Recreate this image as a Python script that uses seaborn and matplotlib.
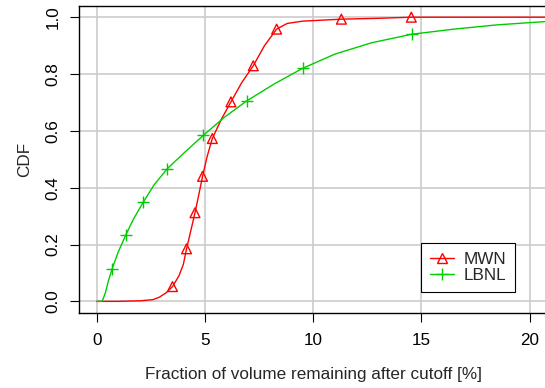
import matplotlib
matplotlib.use("Agg")
import matplotlib.pyplot as plt
from matplotlib.lines import Line2D
import seaborn as sns
import pandas as pd

# ---- data ----
mwn_x = [0.0, 1.0, 2.0, 2.6, 2.9, 3.2, 3.5, 3.8, 4.0, 4.15, 4.35, 4.54, 4.7, 4.89, 5.1,
         5.34, 5.75, 6.2, 6.7, 7.23, 7.75, 8.31, 8.8, 9.5, 10.0, 11.3, 13.0, 14.53, 20.8]
mwn_y = [0.0, 0.0, 0.002, 0.006, 0.015, 0.03, 0.052, 0.09, 0.13, 0.185, 0.25, 0.312, 0.37, 0.44, 0.51,
         0.573, 0.64, 0.702, 0.77, 0.829, 0.90, 0.958, 0.978, 0.986, 0.988, 0.993, 0.996, 1.0, 1.0]
mwn_marks = [6, 9, 11, 13, 15, 17, 19, 21, 25, 27]

lbnl_x = [0.0, 0.25, 0.4, 0.55, 0.71, 1.0, 1.34, 1.7, 2.15, 2.65, 3.26, 4.1, 4.92, 5.9, 6.92,
          8.2, 9.51, 11.0, 12.7, 14.55, 16.5, 18.5, 20.8]
lbnl_y = [0.0, 0.0, 0.03, 0.075, 0.114, 0.175, 0.233, 0.29, 0.349, 0.41, 0.467, 0.527, 0.584, 0.648, 0.705,
          0.765, 0.82, 0.87, 0.91, 0.94, 0.958, 0.973, 0.985]
lbnl_marks = [4, 6, 8, 10, 12, 14, 16, 19]

x_ticks = [0, 5, 10, 15, 20]
y_ticks = [0.0, 0.2, 0.4, 0.6, 0.8, 1.0]
y_tick_labels = ["0.0", "0.2", "0.4", "0.6", "0.8", "1.0"]
series_names = ["MWN", "LBNL"]
colors = ["#FF0000", "#00CD00"]
marker_styles = ["^", "+"]

FS = 12.3

sns.set_theme(style="ticks")
plt.rcParams["font.family"] = ["Liberation Sans", "DejaVu Sans"]

fig = plt.figure(figsize=(5.45, 3.88), dpi=100)
ax = fig.add_axes([0.1457, 0.194, 0.858, 0.791])

ax.grid(True, color="#CCCCCC", linewidth=1.2, zorder=0)
ax.set_axisbelow(True)

series = [(mwn_x, mwn_y, mwn_marks), (lbnl_x, lbnl_y, lbnl_marks)]
for (xs, ys, marks), name, col, mk in zip(series, series_names, colors, marker_styles):
    df = pd.DataFrame({"x": xs, "y": ys})
    sns.lineplot(data=df, x="x", y="y", sort=False, estimator=None, color=col,
                 linewidth=1.0, ax=ax, legend=False, zorder=3)
    dm = df.iloc[marks]
    if mk == "^":
        sns.scatterplot(data=dm, x="x", y="y", marker="^", s=50, facecolor="none",
                        edgecolor=col, linewidth=1.0, ax=ax, legend=False, zorder=4)
    else:
        sns.scatterplot(data=dm, x="x", y="y", marker="+", s=65, color=col,
                        linewidth=1.0, ax=ax, legend=False, zorder=4)

ax.set_xlim(-0.8, 20.8)
ax.set_ylim(-0.04, 1.04)
ax.set_xticks(x_ticks)
ax.set_xticklabels([str(t) for t in x_ticks])
ax.set_yticks(y_ticks)
ax.set_yticklabels(y_tick_labels, rotation=90, va="center")
ax.tick_params(axis="both", direction="out", length=6.5, width=0.8, color="black",
               labelsize=FS, labelcolor="black")
ax.tick_params(axis="x", pad=8)
ax.tick_params(axis="y", pad=7)
for s in ax.spines.values():
    s.set_visible(True)
    s.set_color("black")
    s.set_linewidth(1.0)

ax.set_xlabel("Fraction of volume remaining after cutoff [%]", fontsize=FS, labelpad=14)
ax.set_ylabel("CDF", fontsize=FS, labelpad=10)

handles = [Line2D([0], [0], color=c, marker=m, markersize=7 if m == "^" else 8.5,
                  markerfacecolor="none", markeredgecolor=c, linewidth=1.0, markeredgewidth=1.0)
           for c, m in zip(colors, marker_styles)]
leg = ax.legend(handles, series_names, loc="lower right", bbox_to_anchor=(0.9315, 0.0675),
                borderaxespad=0, frameon=True, fancybox=False, framealpha=1, edgecolor="black",
                fontsize=FS, handlelength=1.4, borderpad=0.5, labelspacing=0.1,
                handletextpad=0.6)
leg.get_frame().set_linewidth(0.8)

fig.savefig("out.png", dpi=100)
